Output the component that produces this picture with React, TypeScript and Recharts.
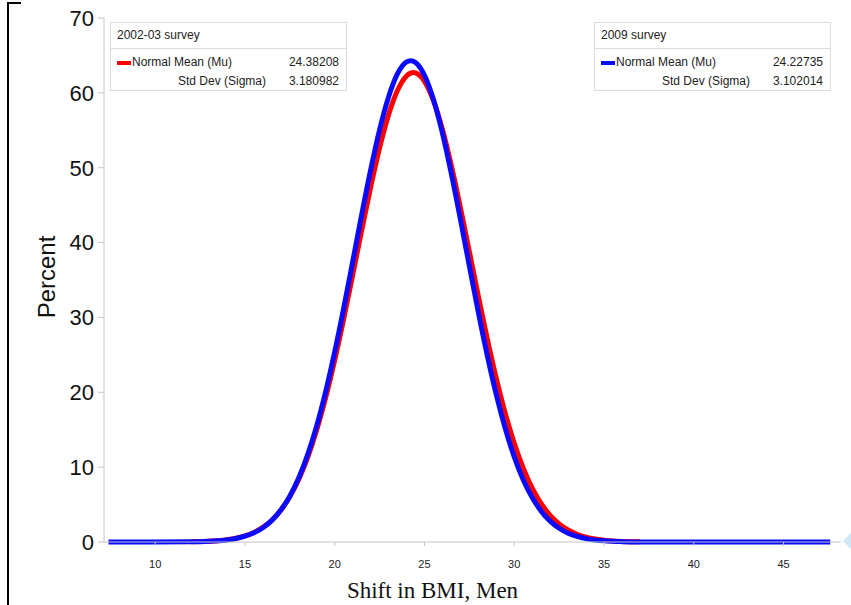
import { LineChart, Line, XAxis, YAxis } from "recharts";

// 2002-03 survey (red) — percent
const bmi0203 = [
  12, 12.5, 13, 13.5, 14, 14.5, 15, 15.5, 16, 16.5, 17, 17.5, 18, 18.5, 19, 19.5,
  20, 20.5, 21, 21.5, 22, 22.5, 23, 23.5, 24, 24.38, 24.5, 25, 25.5, 26, 26.5, 27, 27.5,
  28, 28.5, 29, 29.5, 30, 30.5, 31, 31.5, 32, 32.5, 33, 33.5, 34, 34.5, 35, 35.5,
  36, 36.5, 37,
];
const pct0203 = [
  0.03, 0.06, 0.1, 0.18, 0.3, 0.5, 0.81, 1.27, 1.95, 2.91, 4.25, 6.04, 8.38, 11.34, 14.98, 19.31,
  24.28, 29.78, 35.63, 41.6, 47.37, 52.64, 57.06, 60.34, 62.26, 62.71, 62.66, 61.54, 58.95, 55.1, 50.24, 44.69, 38.79,
  32.84, 27.13, 21.86, 17.19, 13.18, 9.87, 7.2, 5.13, 3.56, 2.42, 1.6, 1.03, 0.65, 0.4, 0.24, 0.14,
  0.08, 0.04, 0.02,
];

// 2009 survey (blue)
const bmi2009 = [
  7.4, 10, 12, 12.5, 13, 13.5, 14, 14.5, 15, 15.5, 16, 16.5, 17, 17.5, 18, 18.5, 19, 19.5,
  20, 20.5, 21, 21.5, 22, 22.5, 23, 23.5, 24, 24.23, 24.5, 25, 25.5, 26, 26.5, 27, 27.5,
  28, 28.5, 29, 29.5, 30, 30.5, 31, 31.5, 32, 32.5, 33, 33.5, 34, 34.5, 35, 35.5,
  36, 37, 40, 47.6,
];
const pct2009 = [
  0, 0, 0.03, 0.05, 0.09, 0.16, 0.28, 0.47, 0.77, 1.23, 1.91, 2.89, 4.26, 6.12, 8.57, 11.7, 15.54, 20.13,
  25.41, 31.24, 37.43, 43.69, 49.69, 55.07, 59.46, 62.56, 64.13, 64.3, 64.06, 62.34, 59.11, 54.62, 49.17, 43.13, 36.86,
  30.69, 24.9, 19.69, 15.17, 11.38, 8.32, 5.93, 4.12, 2.79, 1.84, 1.18, 0.74, 0.45, 0.27, 0.16, 0.09,
  0.05, 0.01, 0, 0,
];

const xTicks = [10, 15, 20, 25, 30, 35, 40, 45];
const yTicks = [0, 10, 20, 30, 40, 50, 60, 70];

const legends = [
  { title: "2002-03 survey", color: "#ff0000", mean: "24.38208", sd: "3.180982", left: 110 },
  { title: "2009 survey", color: "#0a0aff", mean: "24.22735", sd: "3.102014", left: 594 },
];

const rows0203 = bmi0203.map((x, i) => ({ x, y: pct0203[i] }));
const rows2009 = bmi2009.map((x, i) => ({ x, y: pct2009[i] }));

const AXIS = "#c4c4c4";

const App = () => {
  return (
    <div style={{ position: "absolute", left: 0, top: 0, width: 851, height: 605, background: "#fff", overflow: "hidden" }}>
      <LineChart width={851} height={605} margin={{ top: 18, right: 10, bottom: 0, left: 0 }}>
        <XAxis
          type="number"
          dataKey="x"
          domain={[7.15, 48.2]}
          ticks={xTicks}
          allowDataOverflow
          height={63}
          stroke={AXIS}
          tickSize={4}
          tickMargin={14}
          tick={{ fontSize: 11, fill: "#222", fontFamily: "Arial, 'Liberation Sans', sans-serif" }}
          label={{
            content: (props: any) => {
              const vb = props.viewBox;
              const cx = vb.x + vb.width / 2 - 40;
              return (
                <text x={cx} y={598} textAnchor="middle" fontSize={23} fill="#111" fontFamily="'Liberation Serif', 'Times New Roman', serif">
                  Shift in BMI, Men
                </text>
              );
            },
          }}
        />
        <YAxis
          type="number"
          domain={[0, 70]}
          ticks={yTicks}
          width={104}
          stroke={AXIS}
          tickSize={6}
          tickMargin={4}
          tick={{ fontSize: 22, fill: "#111", fontFamily: "Arial, 'Liberation Sans', sans-serif" }}
          label={{
            content: (props: any) => {
              const vb = props.viewBox;
              const cx = vb.x + 46;
              const cy = vb.y + vb.height / 2 - 3;
              return (
                <text
                  x={cx}
                  y={cy}
                  transform={`rotate(-90 ${cx} ${cy})`}
                  textAnchor="middle"
                  dominantBaseline="central"
                  fontSize={24}
                  fill="#111"
                  fontFamily="Arial, 'Liberation Sans', sans-serif"
                >
                  Percent
                </text>
              );
            },
          }}
        />
        <Line data={rows0203} dataKey="y" type="monotone" stroke="#ff0000" strokeWidth={5} dot={false} isAnimationActive={false} />
        <Line data={rows2009} dataKey="y" type="monotone" stroke="#0a0aff" strokeWidth={5} dot={false} isAnimationActive={false} />
      </LineChart>

      {/* legend boxes */}
      {legends.map((l) => (
        <div
          key={l.title}
          style={{
            position: "absolute",
            left: l.left,
            top: 22,
            width: 237,
            height: 69,
            boxSizing: "border-box",
            border: "1px solid #dcdcdc",
            background: "#fff",
            fontFamily: "Arial, 'Liberation Sans', sans-serif",
            fontSize: 12,
            color: "#222",
          }}
        >
          <div style={{ height: 25, lineHeight: "25px", paddingLeft: 6, borderBottom: "1px solid #dcdcdc" }}>{l.title}</div>
          <div style={{ position: "relative", height: 19, marginTop: 4 }}>
            <div style={{ position: "absolute", left: 6, top: 8, width: 14, height: 4, background: l.color }} />
            <span style={{ position: "absolute", left: 21, top: 2 }}>Normal Mean (Mu)</span>
            <span style={{ position: "absolute", right: 7, top: 2 }}>{l.mean}</span>
          </div>
          <div style={{ position: "relative", height: 19 }}>
            <span style={{ position: "absolute", right: 80, top: 2 }}>Std Dev (Sigma)</span>
            <span style={{ position: "absolute", right: 7, top: 2 }}>{l.sd}</span>
          </div>
        </div>
      ))}

      {/* frame fragment at left */}
      <div style={{ position: "absolute", left: 7, top: 2, width: 2, height: 603, background: "#000" }} />
      <div style={{ position: "absolute", left: 7, top: 2, width: 14, height: 2, background: "#000" }} />
      <svg style={{ position: "absolute", left: 842, top: 532 }} width={9} height={18}>
        <polygon points="1,9 9,1 9,17" fill="#cfe8f7" />
      </svg>
    </div>
  );
};

export default App;
